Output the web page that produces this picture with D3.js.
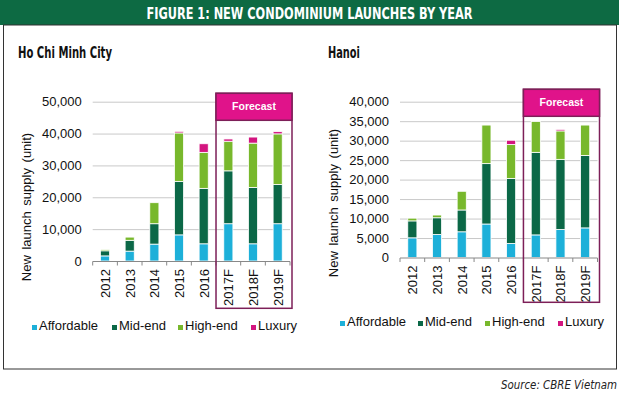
<!DOCTYPE html>
<html>
<head>
<meta charset="utf-8">
<script src="https://cdn.jsdelivr.net/npm/d3@7"></script>
<style>
  body { margin: 0; background: #fff; }
  text { font-family: "Liberation Sans", Arial, sans-serif; }
  .cond { font-family: "Liberation Sans Narrow", "DejaVu Sans Condensed", "Roboto Condensed", sans-serif; }
</style>
</head>
<body>
<svg id="chart" width="619" height="397"></svg>
<script>
// categories and tick labels
const years = ['2012', '2013', '2014', '2015', '2016', '2017F', '2018F', '2019F'];
const forecastYears = ['2017F', '2018F', '2019F'];
const segments = ['Affordable', 'Mid-end', 'High-end', 'Luxury'];
const colors = ['#1db0d9', '#0b6847', '#78b82c', '#d3157f'];

// Ho Chi Minh City (units)
const hcmAffordable = [1600, 3100, 5300, 8200, 5400, 11700, 5400, 11700];
const hcmMidEnd     = [1600, 3400, 6400, 16800, 17400, 16600, 17700, 12300];
const hcmHighEnd    = [400, 1000, 6600, 15200, 11300, 9300, 13900, 15900];
const hcmLuxury     = [0, 0, 0, 500, 2700, 700, 1900, 700];
const hcmTicks = [0, 10000, 20000, 30000, 40000, 50000];

// Hanoi (units)
const hnAffordable = [5050, 5900, 6600, 8600, 3600, 5800, 7200, 7600];
const hnMidEnd     = [4350, 4300, 5600, 15500, 16700, 21200, 18000, 18600];
const hnHighEnd    = [700, 700, 4800, 9900, 8700, 7900, 7300, 7800];
const hnLuxury     = [0, 0, 0, 0, 1100, 0, 400, 0];
const hnTicks = [0, 5000, 10000, 15000, 20000, 25000, 30000, 35000, 40000];

const svg = d3.select('#chart');
const fmt = d3.format(',');

// banner
svg.append('rect').attr('x', 0).attr('y', 0).attr('width', 619).attr('height', 25).attr('fill', '#0d6a43');
svg.append('text').attr('class', 'cond')
  .attr('x', 309.5).attr('y', 18.5)
  .attr('text-anchor', 'middle')
  .attr('fill', '#fff').attr('font-weight', 'bold').attr('font-size', 16.5)
  .attr('textLength', 326).attr('lengthAdjust', 'spacingAndGlyphs')
  .text('FIGURE 1: NEW CONDOMINIUM LAUNCHES BY YEAR');

// outer frame
svg.append('rect').attr('x', 3.5).attr('y', 25).attr('width', 613).attr('height', 344)
  .attr('fill', 'none').attr('stroke', '#333').attr('stroke-width', 1);

svg.append('text').attr('class', 'cond')
  .attr('x', 617).attr('y', 389).attr('text-anchor', 'end')
  .attr('font-style', 'italic').attr('font-size', 11.5).attr('fill', '#222')
  .attr('textLength', 116).attr('lengthAdjust', 'spacingAndGlyphs')
  .text('Source: CBRE Vietnam');

function drawPanel(opts) {
  const rows = years.map((y, i) => ({
    year: y,
    'Affordable': opts.data[0][i],
    'Mid-end': opts.data[1][i],
    'High-end': opts.data[2][i],
    'Luxury': opts.data[3][i]
  }));
  const stacked = d3.stack().keys(segments)(rows);

  const x = d3.scaleBand().domain(years).range([opts.x0, opts.x1]).paddingInner(0.63).paddingOuter(0.315);
  const y = d3.scaleLinear().domain([0, opts.yMax]).range([opts.y0, opts.yTop]);
  const g = svg.append('g');

  // title
  g.append('text').attr('class', 'cond')
    .attr('x', opts.titleX).attr('y', 58)
    .attr('font-weight', 'bold').attr('font-size', 15.5).attr('fill', '#111')
    .attr('textLength', opts.titleW).attr('lengthAdjust', 'spacingAndGlyphs')
    .text(opts.title);

  // gridlines
  g.selectAll('.grid').data(opts.ticks.slice(1)).join('line')
    .attr('x1', opts.x0).attr('x2', opts.x1)
    .attr('y1', d => y(d) + 0.5).attr('y2', d => y(d) + 0.5)
    .attr('stroke', '#c9c9c9').attr('stroke-width', 1);

  // y labels
  g.selectAll('.ylab').data(opts.ticks).join('text')
    .attr('x', opts.x0 - 11).attr('y', d => y(d) + 4.5)
    .attr('text-anchor', 'end').attr('font-size', 13).attr('fill', '#111')
    .text(d => fmt(d));

  // axis title
  g.append('text')
    .attr('transform', `translate(${opts.x0 - 62},${opts.labelY}) rotate(-90)`)
    .attr('text-anchor', 'middle').attr('font-size', 13).attr('fill', '#111')
    .attr('word-spacing', 2)
    .text('New launch supply (unit)');

  // bars
  g.selectAll('.layer').data(stacked).join('g')
    .attr('fill', (d, i) => colors[i])
    .selectAll('rect').data(d => d).join('rect')
    .attr('x', d => x(d.data.year))
    .attr('width', x.bandwidth())
    .attr('y', d => y(d[1]))
    .attr('height', d => Math.max(0, y(d[0]) - y(d[1])))
    .attr('stroke', d => (d[1] - d[0]) > 0 ? '#fff' : 'none')
    .attr('stroke-width', 0.8);

  // x axis
  const step = x.step();
  const axisY = opts.y0 + 0.5;
  g.append('line').attr('x1', opts.x0).attr('x2', opts.x1)
    .attr('y1', axisY).attr('y2', axisY).attr('stroke', '#888');
  g.selectAll('.tick').data(d3.range(years.length + 1)).join('line')
    .attr('x1', i => opts.x0 + i * step).attr('x2', i => opts.x0 + i * step)
    .attr('y1', axisY).attr('y2', axisY + 4).attr('stroke', '#888');
  g.selectAll('.xlab').data(years).join('text')
    .attr('transform', d => `translate(${x(d) + x.bandwidth() / 2 + 5},${opts.y0 + 8}) rotate(-90)`)
    .attr('text-anchor', 'end').attr('font-size', 13).attr('fill', '#111')
    .text(d => d);

  // forecast box
  const boxL = opts.x0 + years.indexOf(forecastYears[0]) * step;
  const boxR = opts.x1 + 2;
  g.append('rect').attr('x', boxL).attr('y', opts.boxTop)
    .attr('width', boxR - boxL).attr('height', opts.boxBottom - opts.boxTop)
    .attr('fill', 'none').attr('stroke', '#7d1f58').attr('stroke-width', 1.5);
  g.append('rect').attr('x', boxL).attr('y', opts.boxTop)
    .attr('width', boxR - boxL).attr('height', 27)
    .attr('fill', '#e0138a').attr('stroke', '#7d1f58').attr('stroke-width', 1.5);
  g.append('text')
    .attr('x', (boxL + boxR) / 2).attr('y', opts.boxTop + 17)
    .attr('text-anchor', 'middle').attr('font-size', 10.5).attr('font-weight', 'bold')
    .attr('fill', '#fff').text('Forecast');

  // legend
  const lg = g.selectAll('.leg').data(segments).join('g')
    .attr('transform', (d, i) => `translate(${opts.legendX[i]},${opts.legendY})`);
  lg.append('rect').attr('x', 0).attr('y', -5).attr('width', 5).attr('height', 5)
    .attr('fill', (d, i) => colors[i]);
  lg.append('text').attr('x', 7).attr('y', 0).attr('font-size', 13).attr('fill', '#111')
    .text(d => d);
}

drawPanel({
  title: 'Ho Chi Minh City', titleX: 18, titleW: 94,
  data: [hcmAffordable, hcmMidEnd, hcmHighEnd, hcmLuxury],
  ticks: hcmTicks, yMax: 50000,
  x0: 92.7, x1: 290, y0: 261, yTop: 101.7,
  labelY: 207,
  boxTop: 93.3, boxBottom: 308.3,
  legendX: [32, 112, 178, 251], legendY: 330
});

drawPanel({
  title: 'Hanoi', titleX: 328, titleW: 32,
  data: [hnAffordable, hnMidEnd, hnHighEnd, hnLuxury],
  ticks: hnTicks, yMax: 40000,
  x0: 400, x1: 597.5, y0: 257.5, yTop: 101.7,
  labelY: 203,
  boxTop: 89.3, boxBottom: 302.3,
  legendX: [340, 418, 485, 558], legendY: 326
});
</script>
</body>
</html>
